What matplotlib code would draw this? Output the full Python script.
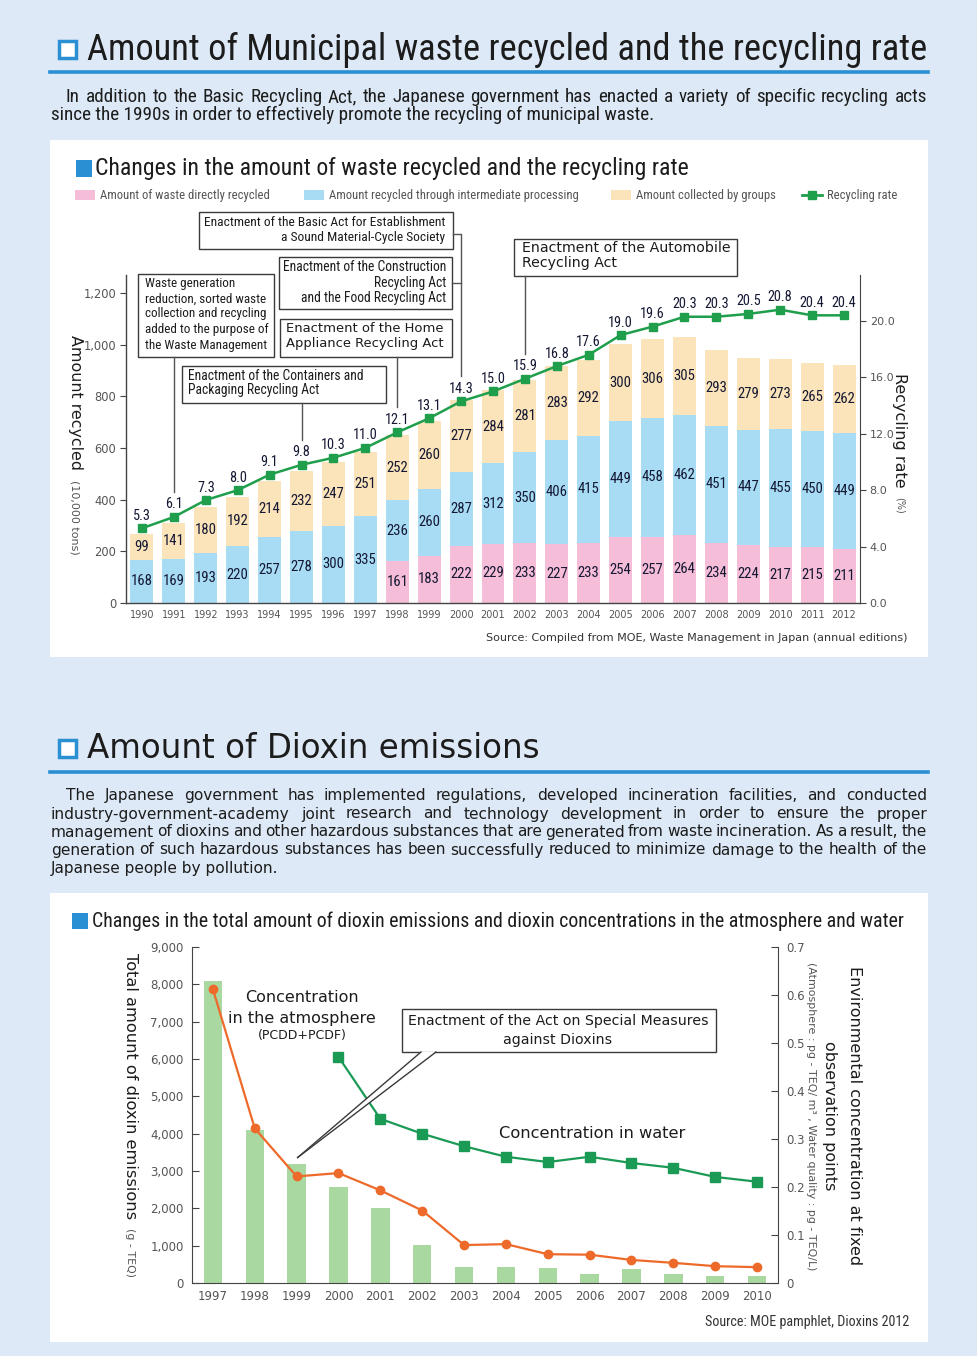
import matplotlib
matplotlib.use('Agg')
import matplotlib.pyplot as plt
from matplotlib.patches import Rectangle, Polygon
from matplotlib.lines import Line2D
from matplotlib.ticker import FuncFormatter
import numpy as np

# --- recycling chart data ---
rec_years = ['1990', '1991', '1992', '1993', '1994', '1995', '1996', '1997', '1998', '1999', '2000', '2001',
             '2002', '2003', '2004', '2005', '2006', '2007', '2008', '2009', '2010', '2011', '2012']
direct = [0, 0, 0, 0, 0, 0, 0, 0, 161, 183, 222, 229, 233, 227, 233, 254, 257, 264, 234, 224, 217, 215, 211]
intermediate = [168, 169, 193, 220, 257, 278, 300, 335, 236, 260, 287, 312, 350, 406, 415, 449, 458, 462,
                451, 447, 455, 450, 449]
groups = [99, 141, 180, 192, 214, 232, 247, 251, 252, 260, 277, 284, 281, 283, 292, 300, 306, 305, 293, 279,
          273, 265, 262]
rate = [5.3, 6.1, 7.3, 8.0, 9.1, 9.8, 10.3, 11.0, 12.1, 13.1, 14.3, 15.0, 15.9, 16.8, 17.6, 19.0, 19.6, 20.3,
        20.3, 20.5, 20.8, 20.4, 20.4]
rec_left_ticks = [0, 200, 400, 600, 800, 1000, 1200]
rec_right_ticks = [0, 4, 8, 12, 16, 20]
legend_labels = ['Amount of waste directly recycled', 'Amount recycled through intermediate processing',
                 'Amount collected by groups', 'Recycling rate']

# --- dioxin chart data ---
dx_years = ['1997', '1998', '1999', '2000', '2001', '2002', '2003', '2004', '2005', '2006', '2007', '2008',
            '2009', '2010']
emissions = [8100, 4090, 3200, 2560, 2020, 1010, 420, 420, 390, 230, 370, 230, 180, 180]
atmosphere = [0.612, 0.322, 0.222, 0.229, 0.193, 0.151, 0.079, 0.081, 0.060, 0.059, 0.048, 0.042, 0.035, 0.033]
water_years = ['2000', '2001', '2002', '2003', '2004', '2005', '2006', '2007', '2008', '2009', '2010']
water = [0.471, 0.342, 0.311, 0.285, 0.263, 0.252, 0.263, 0.250, 0.240, 0.221, 0.211]
dx_left_ticks = [0, 1000, 2000, 3000, 4000, 5000, 6000, 7000, 8000, 9000]
dx_right_ticks = [0, 0.1, 0.2, 0.3, 0.4, 0.5, 0.6, 0.7]

NARROW = ['Roboto Condensed', 'PT Sans Narrow', 'Liberation Sans Narrow', 'DejaVu Sans']
WIDE = ['DejaVu Sans']
BG = '#dde9f6'
ACCENT = '#2b8fd3'
PINK, SKY, SAND = '#f5bdd7', '#a8dcf5', '#fbe3ba'
GREEN = '#1f9e4c'
ORANGE = '#ee6a2a'
BARGREEN = '#a9d8a1'
DARK = '#1c1c1c'
GRAY = '#555555'
NAVY = '#141833'

plt.rcParams['font.family'] = ['DejaVu Sans']

W, H = 978, 1356
fig = plt.figure(figsize=(W / 100, H / 100), dpi=100)
fig.patch.set_facecolor(BG)
R = fig.canvas.get_renderer()


def fp(x, y):
    return x / W, 1 - y / H


def size_for(s, width, family):
    t = fig.text(0, 0, s, fontsize=20, family=family)
    w = t.get_window_extent(R).width
    t.remove()
    return 20 * width / w


def put(x, y, s, family=NARROW, size=10, width=None, **kw):
    if width is not None:
        size = size_for(s, width, family)
    kw.setdefault('color', DARK)
    kw.setdefault('va', 'center')
    return fig.text(*fp(x, y), s, fontsize=size, family=family, **kw)


def rect(x0, y0, x1, y1, **kw):
    fig.add_artist(Rectangle(fp(x0, y1), (x1 - x0) / W, (y1 - y0) / H, transform=fig.transFigure, **kw))


def seg(pts, **kw):
    kw.setdefault('color', '#555555')
    kw.setdefault('lw', 1)
    fig.add_artist(Line2D([p[0] / W for p in pts], [1 - p[1] / H for p in pts], transform=fig.transFigure, **kw))


def data_px(axis, x, y):
    dx, dy = axis.transData.transform((x, y))
    return dx, H - dy


def justify(x0, x1, y, s, size, family):
    words = s.split()
    widths = []
    for w_ in words:
        t = fig.text(0, 0, w_, fontsize=size, family=family)
        widths.append(t.get_window_extent(R).width)
        t.remove()
    gap = (x1 - x0 - sum(widths)) / (len(words) - 1)
    x = x0
    for w_, wd in zip(words, widths):
        fig.text(*fp(x, y), w_, fontsize=size, family=family, color=DARK, va='center', ha='left')
        x += wd + gap


def heading(y_icon, y_text, y_rule, s, family, width):
    rect(59, y_icon, 76, y_icon + 17, fc='white', ec=ACCENT, lw=2.5)
    put(87, y_text, s, family=family, width=width, ha='left')
    seg([(50, y_rule), (928, y_rule)], color=ACCENT, lw=2.6)


# ---------------- section 1 ----------------
heading(41, 50, 72, 'Amount of Municipal waste recycled and the recycling rate', NARROW, 838)
p_size = size_for('since the 1990s in order to effectively promote the recycling of municipal waste.', 604, NARROW)
justify(66, 927, 97, 'In addition to the Basic Recycling Act, the Japanese government has enacted a variety of '
        'specific recycling acts', p_size, NARROW)
put(51, 115, 'since the 1990s in order to effectively promote the recycling of municipal waste.', size=p_size,
    ha='left')

rect(50, 140, 928, 657, fc='white', ec='none', zorder=-10)
rect(76, 160, 92, 177, fc=ACCENT, ec='none')
put(95, 168, 'Changes in the amount of waste recycled and the recycling rate', width=593, ha='left')

# legend
lg_size = size_for(legend_labels[1], 249, NARROW)
for (x0, col), lab in zip([(75, PINK), (304, SKY), (611, SAND)], legend_labels[:3]):
    rect(x0, 190, x0 + 20, 200, fc=col, ec='none')
    put(x0 + 25, 195, lab, size=lg_size, color=GRAY, ha='left')
fig.add_artist(Line2D([802 / W, 822 / W], [1 - 195 / H] * 2, transform=fig.transFigure, color=GREEN, lw=2))
fig.add_artist(Line2D([812 / W], [1 - 195 / H], transform=fig.transFigure, color=GREEN, marker='s', ms=6))
put(827, 195, legend_labels[3], size=lg_size, color=GRAY, ha='left')

ax = fig.add_axes([126 / W, 1 - 603 / H, (860 - 126) / W, (603 - 275) / H])
ax.set_facecolor('none')
x = np.arange(len(rec_years))
bw = 0.72
mid = [d + i for d, i in zip(direct, intermediate)]
b1 = ax.bar(x, direct, bw, color=PINK)
b2 = ax.bar(x, intermediate, bw, bottom=direct, color=SKY)
b3 = ax.bar(x, groups, bw, bottom=mid, color=SAND)
lab_size = size_for('168', 21.7, NARROW)
for bars, vals in [(b1, direct), (b2, intermediate), (b3, groups)]:
    ax.bar_label(bars, labels=[str(v) if v else '' for v in vals], label_type='center',
                 fontsize=lab_size, family=NARROW, color=NAVY)
ax.set_xlim(-0.5, len(rec_years) - 0.5)
ax.set_ylim(0, 1270)
ax.set_xticks(x)
ax.set_xticklabels(rec_years)
ax.set_yticks(rec_left_ticks)
ax.yaxis.set_major_formatter(FuncFormatter(lambda v, p: f'{int(v):,}'))
for s in ['top', 'right']:
    ax.spines[s].set_visible(False)
for s in ['left', 'bottom']:
    ax.spines[s].set_color('#444444')
    ax.spines[s].set_linewidth(1)
ax.tick_params(axis='y', direction='out', length=4, width=0.8, color='#444444', labelcolor=GRAY, labelsize=8.3,
               pad=3)
ax.tick_params(axis='x', length=0, labelcolor=GRAY, labelsize=7, pad=5)

ax2 = ax.twinx()
ax2.plot(x, rate, color=GREEN, lw=1.8, marker='s', ms=6)
ax2.set_ylim(0, 23.26)
ax2.set_yticks(rec_right_ticks)
ax2.yaxis.set_major_formatter(FuncFormatter(lambda v, p: f'{v:.1f}'))
for s in ['top', 'left', 'bottom']:
    ax2.spines[s].set_visible(False)
ax2.spines['right'].set_color('#444444')
ax2.tick_params(axis='y', direction='out', length=4, width=0.8, color='#444444', labelcolor=GRAY, labelsize=8,
                pad=3)
rate_size = size_for('20.3', 25, NARROW)
for i, v in enumerate(rate):
    ax2.annotate(f'{v:.1f}', (i, v), xytext=(0, 4), textcoords='offset points', ha='center', va='bottom',
                 fontsize=rate_size, family=NARROW, color=NAVY)

put(75, 335, 'Amount recycled', family=WIDE, width=135, rotation=270, ha='center', va='top')
put(75, 480, '(10,000 tons)', family=WIDE, width=75, rotation=270, ha='center', va='top', color=GRAY)
put(900, 373, 'Recycling rate', family=WIDE, width=114, rotation=270, ha='center', va='top')
put(900, 497, '(%)', family=WIDE, size=7, rotation=270, ha='center', va='top', color=GRAY)

# act annotation boxes
BOX = dict(fc='white', ec='#3a3a3a', lw=1)


def lead(idx, y_from):
    px, py = data_px(ax2, idx, rate[idx])
    seg([(px, y_from), (px, py - 25)])
    return px, py


rect(199, 212, 453, 249, **BOX)
s_e = size_for('Enactment of the Basic Act for Establishment', 241, NARROW)
put(445, 222, 'Enactment of the Basic Act for Establishment', size=s_e, ha='right')
put(445, 238, 'a Sound Material-Cycle Society', size=s_e, ha='right')

rect(279, 257, 452, 309, **BOX)
s_c = size_for('Enactment of the Construction', 163, NARROW)
for yy, t in zip([267, 283, 298], ['Enactment of the Construction', 'Recycling Act', 'and the Food Recycling Act']):
    put(446, yy, t, size=s_c, ha='right')
px, py = data_px(ax2, 10, rate[10])
seg([(452, 283), (px, 283)])
seg([(453, 234), (px, 234), (px, py - 25)])

rect(138, 274, 274, 357, **BOX)
s_a = size_for('added to the purpose of', 122, NARROW)
for yy, t in zip([284, 299, 314, 330, 345], ['Waste generation', 'reduction, sorted waste',
                                             'collection and recycling', 'added to the purpose of',
                                             'the Waste Management']):
    put(145, yy, t, size=s_a, ha='left')
lead(1, 357)

rect(280, 319, 452, 357, **BOX)
s_d = size_for('Appliance Recycling Act', 157, WIDE)
put(286, 329, 'Enactment of the Home', family=WIDE, size=s_d, ha='left')
put(286, 344, 'Appliance Recycling Act', family=WIDE, size=s_d, ha='left')
lead(8, 357)

rect(182, 366, 386, 403, **BOX)
s_b = size_for('Enactment of the Containers and', 175, NARROW)
put(188, 376, 'Enactment of the Containers and', size=s_b, ha='left')
put(188, 390, 'Packaging Recycling Act', size=s_b, ha='left')
lead(5, 403)

rect(514, 239, 737, 276, **BOX)
s_f = size_for('Enactment of the Automobile', 208, WIDE)
put(522, 248, 'Enactment of the Automobile', family=WIDE, size=s_f, ha='left')
put(522, 263, 'Recycling Act', family=WIDE, size=s_f, ha='left')
lead(12, 276)

put(908, 638, 'Source: Compiled from MOE, Waste Management in Japan (annual editions)', family=WIDE, width=420,
    ha='right', color='#333333')

# ---------------- section 2 ----------------
heading(740, 749, 772, 'Amount of Dioxin emissions', WIDE, 453)
para = ['The Japanese government has implemented regulations, developed incineration facilities, and conducted',
        'industry-government-academy joint research and technology development in order to ensure the proper',
        'management of dioxins and other hazardous substances that are generated from waste incineration. '
        'As a result, the',
        'generation of such hazardous substances has been successfully reduced to minimize damage to the health '
        'of the',
        'Japanese people by pollution.']
p2 = size_for(para[4], 227, WIDE)
justify(66, 927, 796, para[0], p2, WIDE)
for yy, line in zip([814, 832, 850], para[1:4]):
    justify(51, 927, yy, line, p2, WIDE)
put(51, 868, para[4], family=WIDE, size=p2, ha='left')

rect(50, 893, 928, 1342, fc='white', ec='none', zorder=-10)
rect(72, 913, 88, 929, fc=ACCENT, ec='none')
put(92, 921, 'Changes in the total amount of dioxin emissions and dioxin concentrations in the atmosphere and water',
    width=813, ha='left')

bx = fig.add_axes([192 / W, 1 - 1283 / H, (778 - 192) / W, (1283 - 947) / H])
bx.set_facecolor('none')
xd = np.arange(len(dx_years))
bx.bar(xd, emissions, 0.44, color=BARGREEN)
bx.set_xlim(-0.5, len(dx_years) - 0.5)
bx.set_ylim(0, 9000)
bx.set_xticks(xd)
bx.set_xticklabels(dx_years)
bx.set_yticks(dx_left_ticks)
bx.yaxis.set_major_formatter(FuncFormatter(lambda v, p: f'{int(v):,}'))
for s in ['top', 'right']:
    bx.spines[s].set_visible(False)
for s in ['left', 'bottom']:
    bx.spines[s].set_color('#444444')
bx.tick_params(axis='y', direction='in', length=5, width=0.8, color='#444444', labelcolor=GRAY, labelsize=8.5,
               pad=6)
bx.tick_params(axis='x', length=0, labelcolor=GRAY, labelsize=8.5, pad=5)

br = bx.twinx()
br.plot(xd, atmosphere, color=ORANGE, lw=1.6, marker='o', ms=6)
xw = [dx_years.index(y) for y in water_years]
br.plot(xw, water, color='#1a9a55', lw=1.6, marker='s', ms=6.5)
br.set_ylim(0, 0.7)
br.set_yticks(dx_right_ticks)
br.yaxis.set_major_formatter(FuncFormatter(lambda v, p: '0' if v == 0 else f'{v:.1f}'))
for s in ['top', 'left', 'bottom']:
    br.spines[s].set_visible(False)
br.spines['right'].set_color('#444444')
br.tick_params(axis='y', direction='in', length=5, width=0.8, color='#444444', labelcolor=GRAY, labelsize=8.5,
               pad=6)

put(130, 953, 'Total amount of dioxin emissions', family=WIDE, width=267, rotation=270, ha='center', va='top')
put(130, 1228, '(g - TEQ)', family=WIDE, width=49, rotation=270, ha='center', va='top', color=GRAY)
s_r = size_for('Environmental concentration at fixed', 298, WIDE)
put(855, 1116, 'Environmental concentration at fixed', family=WIDE, size=s_r, rotation=270, ha='center')
put(830, 1116, 'observation points', family=WIDE, size=s_r, rotation=270, ha='center')
put(811, 1116, '(Atmosphere : pg - TEQ/ m³ , Water quality : pg - TEQ/L)', family=WIDE, width=308,
    rotation=270, ha='center', color=GRAY)

s_conc = size_for('in the atmosphere', 147, WIDE)
put(302, 998, 'Concentration', family=WIDE, size=s_conc, ha='center')
put(302, 1018, 'in the atmosphere', family=WIDE, size=s_conc, ha='center')
put(302, 1035, '(PCDD+PCDF)', family=WIDE, width=89, ha='center')
put(592, 1134, 'Concentration in water', family=WIDE, width=186, ha='center')

rect(402, 1009, 716, 1052, fc='white', ec='#3a3a3a', lw=1)
s_box = size_for('Enactment of the Act on Special Measures', 300, WIDE)
put(558, 1021, 'Enactment of the Act on Special Measures', family=WIDE, size=s_box, ha='center')
put(558, 1040, 'against Dioxins', family=WIDE, size=s_box, ha='center')
tx, ty = data_px(bx, 2, emissions[2])
tip = (tx + 1, ty - 6)
fig.add_artist(Polygon([fp(421, 1051.5), fp(*tip), fp(436, 1051.5)], closed=True, transform=fig.transFigure,
                       fc='white', ec='none', zorder=2))
seg([(421, 1052), tip], color='#3a3a3a', zorder=3)
seg([(436, 1052), tip], color='#3a3a3a', zorder=3)

put(909, 1322, 'Source: MOE pamphlet, Dioxins 2012', width=205, ha='right', color='#333333')

fig.savefig('out.png', dpi=100, facecolor=BG)
